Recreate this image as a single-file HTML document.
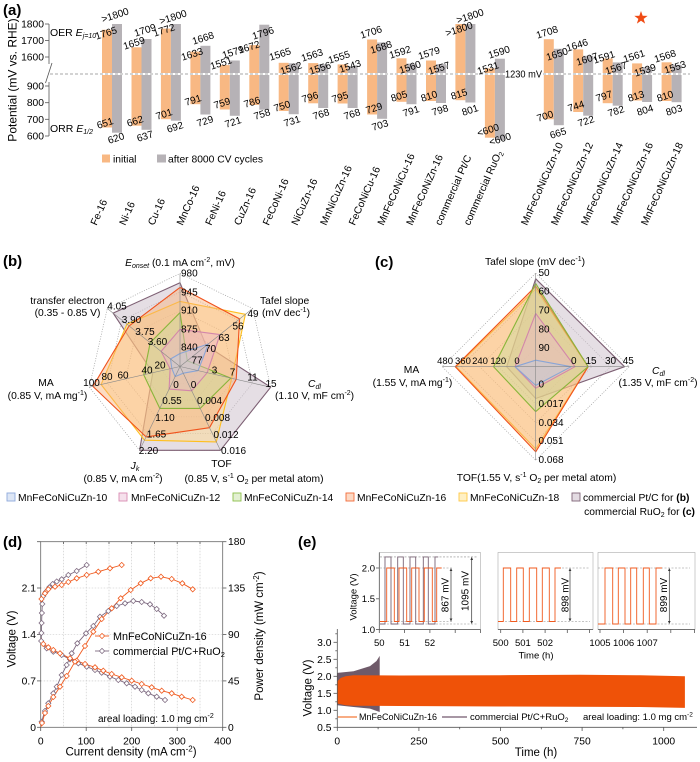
<!DOCTYPE html>
<html><head><meta charset="utf-8"><style>
html,body{margin:0;padding:0;background:#fff;}
svg{display:block;font-family:"Liberation Sans",Arial,sans-serif;}
</style></head><body>
<svg width="700" height="762" viewBox="0 0 700 762" xmlns="http://www.w3.org/2000/svg">
<defs>
<path id="dm" d="M0,-2.6L2.6,0L0,2.6L-2.6,0Z"/>
<marker id="ah" viewBox="0 0 6 6" refX="5.5" refY="3" markerWidth="4" markerHeight="4" orient="auto-start-reverse"><path d="M0,0L6,3L0,6Z" fill="#333"/></marker>
</defs>
<rect width="700" height="762" fill="#fff"/>

<!-- ================= (a) ================= -->
<text x="3" y="15" font-size="15" font-weight="bold">(a)</text>
<text transform="translate(16.5,80) rotate(-90)" text-anchor="middle" font-size="12">Potential (mV vs. RHE)</text>
<g stroke="#555" stroke-width="0.8" fill="none">
<line x1="49" y1="24" x2="49" y2="64"/>
<line x1="52" y1="63" x2="45.5" y2="83"/>
<line x1="49" y1="82" x2="49" y2="136"/>
<line x1="45" y1="24" x2="49" y2="24"/><line x1="45" y1="40.5" x2="49" y2="40.5"/><line x1="45" y1="57" x2="49" y2="57"/>
<line x1="45" y1="86" x2="49" y2="86"/><line x1="45" y1="102.7" x2="49" y2="102.7"/><line x1="45" y1="119.3" x2="49" y2="119.3"/><line x1="45" y1="136" x2="49" y2="136"/>
</g>
<g font-size="10.3" text-anchor="end">
<text x="44" y="27.5">1800</text><text x="44" y="44">1700</text><text x="44" y="60.5">1600</text>
<text x="44" y="89.5">900</text><text x="44" y="106.2">800</text><text x="44" y="122.8">700</text><text x="44" y="139.5">600</text>
</g>
<text x="50" y="36" font-size="10.5">OER <tspan font-style="italic">E</tspan><tspan font-style="italic" font-size="7" dy="2">j=10</tspan></text>
<text x="50" y="132" font-size="10.5">ORR <tspan font-style="italic">E</tspan><tspan font-style="italic" font-size="7" dy="2">1/2</tspan></text>

<!-- bars -->
<g fill="#f8b883">
<rect x="102" y="29.8" width="10" height="43.2"/><rect x="102" y="75" width="10" height="52.5"/>
<rect x="131.5" y="47.3" width="10" height="25.7"/><rect x="131.5" y="75" width="10" height="50.7"/>
<rect x="160.9" y="28.6" width="10" height="44.4"/><rect x="160.9" y="75" width="10" height="44.2"/>
<rect x="190.4" y="51.6" width="10" height="21.4"/><rect x="190.4" y="75" width="10" height="29.2"/>
<rect x="219.8" y="65.1" width="10" height="7.9"/><rect x="219.8" y="75" width="10" height="34.5"/>
<rect x="249.3" y="45.1" width="10" height="27.9"/><rect x="249.3" y="75" width="10" height="30"/>
<rect x="278.7" y="62.8" width="10" height="10.2"/><rect x="278.7" y="75" width="10" height="36"/>
<rect x="308.2" y="63.1" width="10" height="9.9"/><rect x="308.2" y="75" width="10" height="28.3"/>
<rect x="337.6" y="64.4" width="10" height="8.6"/><rect x="337.6" y="75" width="10" height="28.5"/>
<rect x="367.1" y="39.5" width="10" height="33.5"/><rect x="367.1" y="75" width="10" height="39.5"/>
<rect x="396.5" y="58.3" width="10" height="14.7"/><rect x="396.5" y="75" width="10" height="26.8"/>
<rect x="426" y="60.5" width="10" height="12.5"/><rect x="426" y="75" width="10" height="26"/>
<rect x="455.4" y="24" width="10" height="49"/><rect x="455.4" y="75" width="10" height="25.2"/>
<rect x="484.9" y="68.4" width="10" height="4.6"/><rect x="484.9" y="75" width="10" height="62.7"/>
<rect x="543.8" y="39.2" width="10" height="33.8"/><rect x="543.8" y="75" width="10" height="44.3"/>
<rect x="573.2" y="49.4" width="10" height="23.6"/><rect x="573.2" y="75" width="10" height="37"/>
<rect x="602.7" y="58.5" width="10" height="14.5"/><rect x="602.7" y="75" width="10" height="28.2"/>
<rect x="632.1" y="63.4" width="10" height="9.6"/><rect x="632.1" y="75" width="10" height="25.5"/>
<rect x="661.6" y="62.3" width="10" height="10.7"/><rect x="661.6" y="75" width="10" height="26"/>
</g>
<g fill="#b6b2b6">
<rect x="112" y="24" width="10" height="49"/><rect x="112" y="75" width="10" height="57.7"/>
<rect x="141.5" y="39" width="10" height="34"/><rect x="141.5" y="75" width="10" height="54.8"/>
<rect x="170.9" y="24" width="10" height="49"/><rect x="170.9" y="75" width="10" height="45.7"/>
<rect x="200.4" y="45.8" width="10" height="27.2"/><rect x="200.4" y="75" width="10" height="39.5"/>
<rect x="229.8" y="60.5" width="10" height="12.5"/><rect x="229.8" y="75" width="10" height="40.8"/>
<rect x="259.3" y="24.7" width="10" height="48.3"/><rect x="259.3" y="75" width="10" height="34.7"/>
<rect x="288.7" y="63.3" width="10" height="9.7"/><rect x="288.7" y="75" width="10" height="39.2"/>
<rect x="318.2" y="64.3" width="10" height="8.7"/><rect x="318.2" y="75" width="10" height="33"/>
<rect x="347.6" y="66.4" width="10" height="6.6"/><rect x="347.6" y="75" width="10" height="33"/>
<rect x="377.1" y="42.5" width="10" height="30.5"/><rect x="377.1" y="75" width="10" height="43.8"/>
<rect x="406.5" y="63.6" width="10" height="9.4"/><rect x="406.5" y="75" width="10" height="29.2"/>
<rect x="436" y="64.1" width="10" height="8.9"/><rect x="436" y="75" width="10" height="28"/>
<rect x="465.4" y="24" width="10" height="49"/><rect x="465.4" y="75" width="10" height="27.5"/>
<rect x="494.9" y="58.7" width="10" height="14.3"/><rect x="494.9" y="75" width="10" height="65"/>
<rect x="553.8" y="48.8" width="10" height="24.2"/><rect x="553.8" y="75" width="10" height="50.2"/>
<rect x="583.2" y="55.8" width="10" height="17.2"/><rect x="583.2" y="75" width="10" height="40.7"/>
<rect x="612.7" y="62.4" width="10" height="10.6"/><rect x="612.7" y="75" width="10" height="30.7"/>
<rect x="642.1" y="67.1" width="10" height="5.9"/><rect x="642.1" y="75" width="10" height="27"/>
<rect x="671.6" y="64.8" width="10" height="8.2"/><rect x="671.6" y="75" width="10" height="27.2"/>
</g>
<line x1="50" y1="74" x2="503" y2="74" stroke="#8a8a8a" stroke-width="0.8" stroke-dasharray="3,2"/>
<line x1="543" y1="74" x2="690" y2="74" stroke="#8a8a8a" stroke-width="0.8" stroke-dasharray="3,2"/>
<text x="505" y="77.5" font-size="10" textLength="37" lengthAdjust="spacingAndGlyphs">1230 mV</text>
<path d="M641,11L642.65,15.73L647.66,15.84L643.66,18.87L645.11,23.66L641,20.8L636.89,23.66L638.34,18.87L634.34,15.84L639.35,15.73Z" fill="#f04b14"/>

<!-- value labels -->
<g font-size="10" text-anchor="middle">
<text transform="translate(115,15) rotate(-18)" dy="3.5">&gt;1800</text>
<text transform="translate(106,33) rotate(-18)" dy="3.5">1765</text>
<text transform="translate(145,30) rotate(-18)" dy="3.5">1709</text>
<text transform="translate(134,43) rotate(-18)" dy="3.5">1659</text>
<text transform="translate(173,17) rotate(-18)" dy="3.5">&gt;1800</text>
<text transform="translate(164,30) rotate(-18)" dy="3.5">1772</text>
<text transform="translate(203,38) rotate(-18)" dy="3.5">1668</text>
<text transform="translate(192,54) rotate(-18)" dy="3.5">1633</text>
<text transform="translate(233,52) rotate(-18)" dy="3.5">1579</text>
<text transform="translate(221,63) rotate(-18)" dy="3.5">1551</text>
<text transform="translate(263,33) rotate(-18)" dy="3.5">1796</text>
<text transform="translate(249,47) rotate(-18)" dy="3.5">1672</text>
<text transform="translate(280,54) rotate(-18)" dy="3.5">1565</text>
<text transform="translate(291,68) rotate(-18)" dy="3.5">1562</text>
<text transform="translate(312,55) rotate(-18)" dy="3.5">1563</text>
<text transform="translate(320,68) rotate(-18)" dy="3.5">1556</text>
<text transform="translate(339,57) rotate(-18)" dy="3.5">1555</text>
<text transform="translate(350,66) rotate(-18)" dy="3.5">1543</text>
<text transform="translate(371,32) rotate(-18)" dy="3.5">1706</text>
<text transform="translate(381,47) rotate(-18)" dy="3.5">1688</text>
<text transform="translate(400,52) rotate(-18)" dy="3.5">1592</text>
<text transform="translate(410,67) rotate(-18)" dy="3.5">1560</text>
<text transform="translate(429,53) rotate(-18)" dy="3.5">1579</text>
<text transform="translate(439,68) rotate(-18)" dy="3.5">1557</text>
<text transform="translate(470,16) rotate(-18)" dy="3.5">&gt;1800</text>
<text transform="translate(459,29) rotate(-18)" dy="3.5">&gt;1800</text>
<text transform="translate(488,68) rotate(-18)" dy="3.5">1531</text>
<text transform="translate(499,52) rotate(-18)" dy="3.5">1590</text>
<text transform="translate(547,32) rotate(-18)" dy="3.5">1708</text>
<text transform="translate(557,54) rotate(-18)" dy="3.5">1650</text>
<text transform="translate(577,45) rotate(-18)" dy="3.5">1646</text>
<text transform="translate(587,59) rotate(-18)" dy="3.5">1607</text>
<text transform="translate(604,57) rotate(-18)" dy="3.5">1591</text>
<text transform="translate(616,68) rotate(-18)" dy="3.5">1567</text>
<text transform="translate(634,56) rotate(-18)" dy="3.5">1561</text>
<text transform="translate(645,70) rotate(-18)" dy="3.5">1539</text>
<text transform="translate(665,56) rotate(-18)" dy="3.5">1568</text>
<text transform="translate(675,67) rotate(-18)" dy="3.5">1553</text>

<text transform="translate(105,123) rotate(-18)" dy="3.5">651</text>
<text transform="translate(116,138) rotate(-18)" dy="3.5">620</text>
<text transform="translate(135,121) rotate(-18)" dy="3.5">662</text>
<text transform="translate(145,136) rotate(-18)" dy="3.5">637</text>
<text transform="translate(164,114) rotate(-18)" dy="3.5">701</text>
<text transform="translate(175,127) rotate(-18)" dy="3.5">692</text>
<text transform="translate(193,100) rotate(-18)" dy="3.5">791</text>
<text transform="translate(205,121) rotate(-18)" dy="3.5">729</text>
<text transform="translate(222,103) rotate(-18)" dy="3.5">759</text>
<text transform="translate(233,122) rotate(-18)" dy="3.5">721</text>
<text transform="translate(252,102) rotate(-18)" dy="3.5">786</text>
<text transform="translate(262,114) rotate(-18)" dy="3.5">758</text>
<text transform="translate(282,106) rotate(-18)" dy="3.5">750</text>
<text transform="translate(292,121) rotate(-18)" dy="3.5">731</text>
<text transform="translate(310,97) rotate(-18)" dy="3.5">796</text>
<text transform="translate(321,114) rotate(-18)" dy="3.5">768</text>
<text transform="translate(340,97) rotate(-18)" dy="3.5">795</text>
<text transform="translate(352,114) rotate(-18)" dy="3.5">768</text>
<text transform="translate(374,108) rotate(-18)" dy="3.5">729</text>
<text transform="translate(380,125) rotate(-18)" dy="3.5">703</text>
<text transform="translate(399,96) rotate(-18)" dy="3.5">805</text>
<text transform="translate(411,111) rotate(-18)" dy="3.5">791</text>
<text transform="translate(429,96) rotate(-18)" dy="3.5">810</text>
<text transform="translate(440,110) rotate(-18)" dy="3.5">798</text>
<text transform="translate(459,94) rotate(-18)" dy="3.5">815</text>
<text transform="translate(470,110) rotate(-18)" dy="3.5">801</text>
<text transform="translate(488,130) rotate(-18)" dy="3.5">&lt;600</text>
<text transform="translate(500,139) rotate(-18)" dy="3.5">&lt;600</text>
<text transform="translate(545,116) rotate(-18)" dy="3.5">700</text>
<text transform="translate(558,133) rotate(-18)" dy="3.5">665</text>
<text transform="translate(576,106) rotate(-18)" dy="3.5">744</text>
<text transform="translate(586,121) rotate(-18)" dy="3.5">722</text>
<text transform="translate(604,96) rotate(-18)" dy="3.5">797</text>
<text transform="translate(616,111) rotate(-18)" dy="3.5">782</text>
<text transform="translate(636,96) rotate(-18)" dy="3.5">813</text>
<text transform="translate(645,110) rotate(-18)" dy="3.5">804</text>
<text transform="translate(665,96) rotate(-18)" dy="3.5">810</text>
<text transform="translate(674,110) rotate(-18)" dy="3.5">803</text>
</g>

<!-- legend (a) -->
<rect x="102" y="154.5" width="8" height="8" fill="#f8b883"/>
<text x="113" y="162.5" font-size="10.3">initial</text>
<rect x="157" y="154.5" width="9" height="8" fill="#b6b2b6"/>
<text x="168" y="162.5" font-size="10.3">after 8000 CV cycles</text>

<!-- category labels -->
<g font-size="10.3">
<text transform="translate(96.5,226) rotate(-66)">Fe-16</text>
<text transform="translate(125.2,226) rotate(-66)">Ni-16</text>
<text transform="translate(153.9,226) rotate(-66)">Cu-16</text>
<text transform="translate(182.6,226) rotate(-66)">MnCo-16</text>
<text transform="translate(211.3,226) rotate(-66)">FeNi-16</text>
<text transform="translate(240,226) rotate(-66)">CuZn-16</text>
<text transform="translate(268.7,226) rotate(-66)">FeCoNi-16</text>
<text transform="translate(297.4,226) rotate(-66)">NiCuZn-16</text>
<text transform="translate(326.1,226) rotate(-66)">MnNiCuZn-16</text>
<text transform="translate(354.8,226) rotate(-66)">FeCoNiCu-16</text>
<text transform="translate(383.5,226) rotate(-66)">MnFeCoNiCu-16</text>
<text transform="translate(412.2,226) rotate(-66)">MnFeCoNiZn-16</text>
<text transform="translate(440.9,226) rotate(-66)">commercial Pt/C</text>
<text transform="translate(469.6,226) rotate(-66)">commercial RuO<tspan font-size="7" dy="2">2</tspan></text>
<text transform="translate(527,226) rotate(-66)">MnFeCoNiCuZn-10</text>
<text transform="translate(557,226) rotate(-66)">MnFeCoNiCuZn-12</text>
<text transform="translate(587,226) rotate(-66)">MnFeCoNiCuZn-14</text>
<text transform="translate(617,226) rotate(-66)">MnFeCoNiCuZn-16</text>
<text transform="translate(647,226) rotate(-66)">MnFeCoNiCuZn-18</text>
</g>

<!-- ================= (b) ================= -->
<text x="3" y="266" font-size="15" font-weight="bold">(b)</text>
<g fill="none" stroke="#9a9a9a" stroke-width="0.7" stroke-dasharray="1,1.5">
<polygon points="180,347.9 194.5,354.9 198.1,370.6 188.1,383.3 171.9,383.3 161.9,370.6 165.5,354.9"/>
<polygon points="180,329.3 209.1,343.3 216.3,374.8 196.1,400 163.9,400 143.7,374.8 150.9,343.3"/>
<polygon points="180,310.7 223.6,331.7 234.4,378.9 204.2,416.8 155.8,416.8 125.6,378.9 136.4,331.7"/>
<polygon points="180,292.1 238.2,320.1 252.5,383.1 212.3,433.5 147.7,433.5 107.5,383.1 121.8,320.1"/>
<polygon points="180,273.5 252.7,308.5 270.7,387.2 220.4,450.3 139.6,450.3 89.3,387.2 107.3,308.5"/>
</g>
<g stroke-width="1.1" stroke-linejoin="round">
<polygon points="180,282.8 206.2,345.6 270.7,387.2 220.4,450.3 139.6,450.3 152.8,372.7 113.1,313.1" fill="#cfc3cd" fill-opacity="0.55" stroke="#7d5f73"/>
<polygon points="180,301.4 245.4,314.3 231.7,378.3 216.3,441.9 144.5,440.2 101.1,384.5 126.9,324.2" fill="#ffd98a" fill-opacity="0.45" stroke="#ffbf1f"/>
<polygon points="180,287.4 239.6,318.9 236.2,379.3 209.5,427.7 146.1,436.9 92.9,386.4 129.1,325.9" fill="#f9b27a" fill-opacity="0.45" stroke="#f0521c"/>
<polygon points="180,312.6 187.3,360.7 230.8,378.1 200.2,408.4 159.8,408.4 143.7,374.8 150.2,342.7" fill="#c5de9a" fill-opacity="0.4" stroke="#8ab53a"/>
<polygon points="180,329.3 220,334.6 207.2,372.7 191.7,390.8 169.1,389.1 170.1,368.8 161.1,351.4" fill="#eab3cc" fill-opacity="0.4" stroke="#d386aa"/>
<polygon points="180,353.5 208.4,343.9 198.1,370.6 183.2,373.2 175.1,376.6 171.8,368.4 170.5,359" fill="#b9cbea" fill-opacity="0.4" stroke="#8aa5d6"/>
</g>
<g stroke="#888" stroke-width="0.6">
<line x1="180" y1="366.5" x2="180" y2="273.5"/><line x1="180" y1="366.5" x2="252.7" y2="308.5"/>
<line x1="180" y1="366.5" x2="270.7" y2="387.2"/><line x1="180" y1="366.5" x2="220.4" y2="450.3"/>
<line x1="180" y1="366.5" x2="139.6" y2="450.3"/><line x1="180" y1="366.5" x2="89.3" y2="387.2"/>
<line x1="180" y1="366.5" x2="107.3" y2="308.5"/>
</g>
<g font-size="10">
<text x="181" y="350.5">840</text><text x="181" y="332.5">875</text><text x="181" y="313.5">910</text><text x="181" y="295.5">945</text><text x="181" y="276.5">980</text>
</g>
<g font-size="10" text-anchor="middle">
<text x="253" y="317">49</text><text x="238" y="329.5">56</text><text x="224" y="341">63</text><text x="210.5" y="352">70</text><text x="197" y="363.5">77</text>
<text x="214.5" y="373.5">3</text><text x="232.5" y="375.5">7</text><text x="252.5" y="380.5">11</text><text x="271" y="387">15</text>
<text x="193.5" y="388">0</text><text x="209.5" y="404">0.004</text><text x="217.5" y="421">0.008</text><text x="226" y="438">0.012</text><text x="233.5" y="454">0.016</text>
<text x="176" y="388">0</text><text x="172" y="404">0.55</text><text x="165" y="421">1.10</text><text x="156.5" y="437.5">1.65</text><text x="148.5" y="454">2.20</text>
<text x="160" y="368.5">20</text><text x="147" y="373.5">40</text><text x="123" y="378.5">60</text><text x="107" y="380">80</text><text x="91.5" y="386">100</text>
<text x="157.5" y="345">3.60</text><text x="145" y="335">3.75</text><text x="131.5" y="323">3.90</text><text x="117" y="309.5">4.05</text>
</g>
<g font-size="10.3">
<text x="180" y="266" text-anchor="middle"><tspan font-style="italic">E</tspan><tspan font-style="italic" font-size="7" dy="2">onset</tspan><tspan dy="-2"> (0.1 mA cm</tspan><tspan font-size="7" dy="-4">-2</tspan><tspan dy="4">, mV)</tspan></text>
<text x="260" y="304">Tafel slope</text>
<text x="262" y="316">(mV dec<tspan font-size="7" dy="-4">-1</tspan><tspan dy="4">)</tspan></text>
<text x="308" y="387"><tspan font-style="italic">C</tspan><tspan font-style="italic" font-size="7" dy="2">dl</tspan></text>
<text x="275" y="399">(1.10 V, mF cm<tspan font-size="7" dy="-4">-2</tspan><tspan dy="4">)</tspan></text>
<text x="221.5" y="467" text-anchor="middle">TOF</text>
<text x="254" y="482" text-anchor="middle">(0.85 V, s<tspan font-size="7" dy="-4">-1</tspan><tspan dy="4"> O</tspan><tspan font-size="7" dy="2">2</tspan><tspan dy="-2"> per metal atom)</tspan></text>
<text x="135" y="469" text-anchor="middle"><tspan font-style="italic">J</tspan><tspan font-style="italic" font-size="7" dy="2">k</tspan></text>
<text x="123" y="482" text-anchor="middle">(0.85 V, mA cm<tspan font-size="7" dy="-4">-2</tspan><tspan dy="4">)</tspan></text>
<text x="46" y="386" text-anchor="middle">MA</text>
<text x="47.5" y="399" text-anchor="middle">(0.85 V, mA mg<tspan font-size="7" dy="-4">-1</tspan><tspan dy="4">)</tspan></text>
<text x="67.5" y="304" text-anchor="middle">transfer electron</text>
<text x="67.5" y="316" text-anchor="middle">(0.35 - 0.85 V)</text>
</g>

<!-- ================= (c) ================= -->
<text x="375" y="267" font-size="15" font-weight="bold">(c)</text>
<g fill="none" stroke="#9a9a9a" stroke-width="0.7" stroke-dasharray="1,1.5">
<polygon points="535.7,348 554.4,366.7 535.7,385.4 517,366.7"/>
<polygon points="535.7,329.3 573.1,366.7 535.7,404.1 498.3,366.7"/>
<polygon points="535.7,310.6 591.8,366.7 535.7,422.8 479.6,366.7"/>
<polygon points="535.7,291.9 610.5,366.7 535.7,441.5 460.9,366.7"/>
<polygon points="535.7,273.2 629.2,366.7 535.7,460.2 442.2,366.7"/>
</g>
<g stroke-width="1.1" stroke-linejoin="round">
<polygon points="535.7,278.8 624.5,366.7 535.7,398.5 506.7,366.7" fill="#cfc3cd" fill-opacity="0.55" stroke="#7d5f73"/>
<polygon points="535.7,289.1 588.1,366.7 535.7,449 456.2,366.7" fill="#ffd98a" fill-opacity="0.45" stroke="#ffbf1f"/>
<polygon points="535.7,286.3 588.1,366.7 535.7,451.8 455.3,366.7" fill="#f9b27a" fill-opacity="0.45" stroke="#f0521c"/>
<polygon points="535.7,283.5 588.1,366.7 535.7,411.6 493.6,366.7" fill="#c5de9a" fill-opacity="0.4" stroke="#8ab53a"/>
<polygon points="535.7,313.4 575,366.7 535.7,388.2 515.1,366.7" fill="#eab3cc" fill-opacity="0.4" stroke="#d386aa"/>
<polygon points="535.7,360.2 571.2,366.7 535.7,385.4 515.1,366.7" fill="#b9cbea" fill-opacity="0.4" stroke="#8aa5d6"/>
</g>
<g stroke="#888" stroke-width="0.6">
<line x1="535.7" y1="273.2" x2="535.7" y2="460.2"/><line x1="442.2" y1="366.7" x2="629.2" y2="366.7"/>
</g>
<g font-size="10">
<text x="538.5" y="276">50</text><text x="538.5" y="294.5">60</text><text x="538.5" y="313.5">70</text><text x="538.5" y="332.5">80</text><text x="538.5" y="351">90</text>
<text x="538.5" y="387.5">0</text><text x="538.5" y="407">0.017</text><text x="538.5" y="426">0.034</text><text x="538.5" y="444">0.051</text><text x="538.5" y="463">0.068</text>
</g>
<g font-size="9.5">
<text x="453" y="364" text-anchor="end">480</text><text x="455" y="364">360</text><text x="480" y="364" text-anchor="middle">240</text><text x="498.3" y="364" text-anchor="middle">120</text><text x="517" y="364" text-anchor="middle">0</text>
</g>
<g font-size="10" text-anchor="middle">
<text x="573.8" y="364">0</text><text x="591" y="364">15</text><text x="610.5" y="364">30</text><text x="628.3" y="364">45</text>
</g>
<g font-size="10.3">
<text x="535" y="265" text-anchor="middle">Tafel slope (mV dec<tspan font-size="7" dy="-4">-1</tspan><tspan dy="4">)</tspan></text>
<text x="411.5" y="373" text-anchor="middle">MA</text>
<text x="412.5" y="386" text-anchor="middle">(1.55 V, mA mg<tspan font-size="7" dy="-4">-1</tspan><tspan dy="4">)</tspan></text>
<text x="652" y="374"><tspan font-style="italic">C</tspan><tspan font-style="italic" font-size="7" dy="2">dl</tspan></text>
<text x="658" y="386" text-anchor="middle">(1.35 V, mF cm<tspan font-size="7" dy="-4">-2</tspan><tspan dy="4">)</tspan></text>
<text x="536.5" y="481" text-anchor="middle">TOF(1.55 V, s<tspan font-size="7" dy="-4">-1</tspan><tspan dy="4"> O</tspan><tspan font-size="7" dy="2">2</tspan><tspan dy="-2"> per metal atom)</tspan></text>
</g>

<!-- legend b/c -->
<g stroke-width="0.9">
<rect x="7" y="493" width="8" height="8" fill="#dde6f5" stroke="#8faadc"/>
<rect x="119" y="493" width="8" height="8" fill="#f6e1ec" stroke="#d98cb3"/>
<rect x="233" y="493" width="8" height="8" fill="#e3f0d3" stroke="#8cc04a"/>
<rect x="346" y="493" width="8" height="8" fill="#fcd9c4" stroke="#f26b3a"/>
<rect x="459" y="493" width="8" height="8" fill="#fff0c4" stroke="#ffc845"/>
<rect x="572" y="493" width="8" height="8" fill="#e3dbe2" stroke="#7f6477"/>
</g>
<g font-size="10.3">
<text x="18" y="501">MnFeCoNiCuZn-10</text>
<text x="131" y="501">MnFeCoNiCuZn-12</text>
<text x="244" y="501">MnFeCoNiCuZn-14</text>
<text x="357" y="501">MnFeCoNiCuZn-16</text>
<text x="470" y="501">MnFeCoNiCuZn-18</text>
<text x="583" y="501">commercial Pt/C for <tspan font-weight="bold">(b)</tspan></text>
<text x="695" y="515" text-anchor="end">commercial RuO<tspan font-size="7" dy="2">2</tspan><tspan dy="-2"> for </tspan><tspan font-weight="bold">(c)</tspan></text>
</g>

<!-- ================= (d) ================= -->
<text x="3" y="547" font-size="15" font-weight="bold">(d)</text>
<g stroke="#c4c4c4" stroke-width="0.6" stroke-dasharray="1.5,1.5">
<line x1="40.7" y1="680.9" x2="222.7" y2="680.9"/><line x1="40.7" y1="634.5" x2="222.7" y2="634.5"/><line x1="40.7" y1="588" x2="222.7" y2="588"/>
<line x1="63.5" y1="541.7" x2="63.5" y2="727.3"/><line x1="86.2" y1="541.7" x2="86.2" y2="727.3"/><line x1="109" y1="541.7" x2="109" y2="727.3"/>
<line x1="131.7" y1="541.7" x2="131.7" y2="727.3"/><line x1="154.5" y1="541.7" x2="154.5" y2="727.3"/><line x1="177.2" y1="541.7" x2="177.2" y2="727.3"/><line x1="200" y1="541.7" x2="200" y2="727.3"/>
</g>
<rect x="40.7" y="541.7" width="182" height="185.6" fill="none" stroke="#666" stroke-width="0.8"/>
<g stroke="#555" stroke-width="0.8">
<line x1="37" y1="727.3" x2="40.7" y2="727.3"/><line x1="37" y1="680.9" x2="40.7" y2="680.9"/><line x1="37" y1="634.5" x2="40.7" y2="634.5"/><line x1="37" y1="588" x2="40.7" y2="588"/><line x1="37" y1="541.7" x2="40.7" y2="541.7"/>
<line x1="222.7" y1="727.3" x2="226.4" y2="727.3"/><line x1="222.7" y1="680.9" x2="226.4" y2="680.9"/><line x1="222.7" y1="634.5" x2="226.4" y2="634.5"/><line x1="222.7" y1="588" x2="226.4" y2="588"/><line x1="222.7" y1="541.7" x2="226.4" y2="541.7"/>
<line x1="40.7" y1="727.3" x2="40.7" y2="731"/><line x1="86.2" y1="727.3" x2="86.2" y2="731"/><line x1="131.7" y1="727.3" x2="131.7" y2="731"/><line x1="177.2" y1="727.3" x2="177.2" y2="731"/><line x1="222.7" y1="727.3" x2="222.7" y2="731"/>
<line x1="63.5" y1="541.7" x2="63.5" y2="544"/><line x1="86.2" y1="541.7" x2="86.2" y2="544"/><line x1="109" y1="541.7" x2="109" y2="544"/><line x1="131.7" y1="541.7" x2="131.7" y2="544"/><line x1="154.5" y1="541.7" x2="154.5" y2="544"/><line x1="177.2" y1="541.7" x2="177.2" y2="544"/><line x1="200" y1="541.7" x2="200" y2="544"/>
</g>
<g font-size="10.3" text-anchor="end">
<text x="36" y="731">0</text><text x="36" y="684.5">0.7</text><text x="36" y="638">1.4</text><text x="36" y="591.5">2.1</text>
</g>
<g font-size="10.3">
<text x="228" y="731">0</text><text x="228" y="684.5">45</text><text x="228" y="638">90</text><text x="228" y="591.5">135</text><text x="228" y="545">180</text>
</g>
<g font-size="10.3" text-anchor="middle">
<text x="40.7" y="744.5">0</text><text x="86.2" y="744.5">100</text><text x="131.7" y="744.5">200</text><text x="177.2" y="744.5">300</text><text x="222.7" y="744.5">400</text>
</g>
<text transform="translate(15.5,639) rotate(-90)" text-anchor="middle" font-size="11.5">Voltage (V)</text>
<text transform="translate(263,636) rotate(-90)" text-anchor="middle" font-size="11.5">Power density (mW cm<tspan font-size="8" dy="-4">-2</tspan><tspan dy="4">)</tspan></text>
<text x="131" y="755.5" text-anchor="middle" font-size="11.5">Current density (mA cm<tspan font-size="8" dy="-4">-2</tspan><tspan dy="4">)</tspan></text>

<g fill="none" stroke-width="0.9">
<polyline stroke="#7e6a80" points="41.3,643 41.4,633 41.6,623 41.9,613 42.3,604 43.3,596 46,591.7 49.3,587.3 52.7,584 56.7,581.5 61.7,579.3 68.3,575 76.7,571 86.7,565"/>
<polyline stroke="#7e6a80" points="41.2,641 43,645 46.7,648.3 53.3,651.7 61.7,655 70,659.3 78.3,663.3 86.7,666.7 95,670 101.7,672.7 110,676.7 118.3,680 126.7,683.3 135,686.7 141.7,690 148.3,693.3 156.7,696.7 165,700"/>
<polyline stroke="#7e6a80" points="40.9,727 41.7,721.7 43.3,716 45,711 48.3,703.3 53.3,693.3 56.7,686.7 61.7,675 66.7,665 71.7,653.3 77.3,643.3 86,633.3 93.3,626 100,616.7 108.3,611 116.7,606 125,603.3 133.3,601 141.7,602 150,604.3 156.7,609 164,615.7"/>
<polyline stroke="#f05a1e" points="41,605 41.5,599 45,593.3 48.3,589.3 55,586.7 61.7,585 68.3,582 76.7,578.3 86.7,575 98.3,571.7 110,568.3 121.7,565"/>
<polyline stroke="#f05a1e" points="41.2,638 43.3,644 48.3,647.3 53.3,650 60,653.3 70,658.3 76.7,660.7 85,664 95,667.3 103.3,670.7 111.7,674 121.7,677.3 131.7,680.7 141.7,684 151.7,687.3 161.7,690.7 171.7,693.3 181.7,696.7 192.7,700"/>
<polyline stroke="#f05a1e" points="40.9,727 42,723 43.5,718 45,713 48.3,706 53.3,697 60,686.7 66.7,676 75,661.7 85,646 93.3,631.7 101.7,619 111.7,608.3 120.7,598.3 130.7,590 140.7,583.3 150.7,578.3 161,576.7 171.7,579 182.3,583.3 192.7,589.3"/>
</g>
<g fill="#fff" stroke="#7e6a80" stroke-width="0.8">
<use href="#dm" x="41.4" y="633"/><use href="#dm" x="41.6" y="623"/><use href="#dm" x="41.9" y="613"/><use href="#dm" x="42.3" y="604"/><use href="#dm" x="43.3" y="596"/><use href="#dm" x="46" y="591.7"/><use href="#dm" x="49.3" y="587.3"/><use href="#dm" x="52.7" y="584"/><use href="#dm" x="56.7" y="581.5"/><use href="#dm" x="61.7" y="579.3"/><use href="#dm" x="68.3" y="575"/><use href="#dm" x="76.7" y="571"/><use href="#dm" x="86.7" y="565"/>
<use href="#dm" x="41.2" y="641"/><use href="#dm" x="46.7" y="648.3"/><use href="#dm" x="53.3" y="651.7"/><use href="#dm" x="61.7" y="655"/><use href="#dm" x="70" y="659.3"/><use href="#dm" x="78.3" y="663.3"/><use href="#dm" x="86.7" y="666.7"/><use href="#dm" x="95" y="670"/><use href="#dm" x="101.7" y="672.7"/><use href="#dm" x="110" y="676.7"/><use href="#dm" x="118.3" y="680"/><use href="#dm" x="126.7" y="683.3"/><use href="#dm" x="135" y="686.7"/><use href="#dm" x="141.7" y="690"/><use href="#dm" x="148.3" y="693.3"/><use href="#dm" x="156.7" y="696.7"/><use href="#dm" x="165" y="700"/>
<use href="#dm" x="41.7" y="721.7"/><use href="#dm" x="45" y="711"/><use href="#dm" x="48.3" y="703.3"/><use href="#dm" x="53.3" y="693.3"/><use href="#dm" x="56.7" y="686.7"/><use href="#dm" x="61.7" y="675"/><use href="#dm" x="66.7" y="665"/><use href="#dm" x="71.7" y="653.3"/><use href="#dm" x="77.3" y="643.3"/><use href="#dm" x="86" y="633.3"/><use href="#dm" x="93.3" y="626"/><use href="#dm" x="100" y="616.7"/><use href="#dm" x="108.3" y="611"/><use href="#dm" x="116.7" y="606"/><use href="#dm" x="125" y="603.3"/><use href="#dm" x="133.3" y="601"/><use href="#dm" x="141.7" y="602"/><use href="#dm" x="150" y="604.3"/><use href="#dm" x="156.7" y="609"/><use href="#dm" x="164" y="615.7"/>
</g>
<g fill="#fff" stroke="#f05a1e" stroke-width="0.8">
<use href="#dm" x="41.5" y="599"/><use href="#dm" x="45" y="593.3"/><use href="#dm" x="48.3" y="589.3"/><use href="#dm" x="55" y="586.7"/><use href="#dm" x="61.7" y="585"/><use href="#dm" x="68.3" y="582"/><use href="#dm" x="76.7" y="578.3"/><use href="#dm" x="86.7" y="575"/><use href="#dm" x="98.3" y="571.7"/><use href="#dm" x="110" y="568.3"/><use href="#dm" x="121.7" y="565"/>
<use href="#dm" x="43.3" y="644"/><use href="#dm" x="48.3" y="647.3"/><use href="#dm" x="53.3" y="650"/><use href="#dm" x="60" y="653.3"/><use href="#dm" x="70" y="658.3"/><use href="#dm" x="76.7" y="660.7"/><use href="#dm" x="85" y="664"/><use href="#dm" x="95" y="667.3"/><use href="#dm" x="103.3" y="670.7"/><use href="#dm" x="111.7" y="674"/><use href="#dm" x="121.7" y="677.3"/><use href="#dm" x="131.7" y="680.7"/><use href="#dm" x="141.7" y="684"/><use href="#dm" x="151.7" y="687.3"/><use href="#dm" x="161.7" y="690.7"/><use href="#dm" x="171.7" y="693.3"/><use href="#dm" x="181.7" y="696.7"/><use href="#dm" x="192.7" y="700"/>
<use href="#dm" x="42" y="723"/><use href="#dm" x="45" y="713"/><use href="#dm" x="48.3" y="706"/><use href="#dm" x="53.3" y="697"/><use href="#dm" x="60" y="686.7"/><use href="#dm" x="66.7" y="676"/><use href="#dm" x="75" y="661.7"/><use href="#dm" x="85" y="646"/><use href="#dm" x="93.3" y="631.7"/><use href="#dm" x="101.7" y="619"/><use href="#dm" x="111.7" y="608.3"/><use href="#dm" x="120.7" y="598.3"/><use href="#dm" x="130.7" y="590"/><use href="#dm" x="140.7" y="583.3"/><use href="#dm" x="150.7" y="578.3"/><use href="#dm" x="161" y="576.7"/><use href="#dm" x="171.7" y="579"/><use href="#dm" x="182.3" y="583.3"/><use href="#dm" x="192.7" y="589.3"/>
</g>
<!-- legend d -->
<line x1="95" y1="636" x2="109" y2="636" stroke="#f05a1e" stroke-width="0.9"/>
<use href="#dm" x="102" y="636" fill="#fff" stroke="#f05a1e" stroke-width="0.8"/>
<line x1="95" y1="651" x2="109" y2="651" stroke="#7e6a80" stroke-width="0.9"/>
<use href="#dm" x="102" y="651" fill="#fff" stroke="#7e6a80" stroke-width="0.8"/>
<text x="113" y="640" font-size="10.8">MnFeCoNiCuZn-16</text>
<text x="113" y="655" font-size="10.8">commercial Pt/C+RuO<tspan font-size="7.5" dy="2">2</tspan></text>
<text x="98" y="722" font-size="10">areal loading: 1.0 mg cm<tspan font-size="7" dy="-4">-2</tspan></text>

<!-- ================= (e) ================= -->
<text x="298" y="547" font-size="15" font-weight="bold">(e)</text>
<polygon fill="#6f5a69" points="337.3,672.9 353.6,671.2 370,666.1 376.5,661 379.7,655.9 379.7,712 370,708.6 353.6,707 337.3,705.2"/>
<polygon fill="#ef5208" points="337.3,681.4 340.6,678 345.5,676.3 353.6,675.3 400,675.5 500,675.2 580,674.8 640,675.3 684.9,676.3 684.9,707.9 640,707 500,706.5 400,706 353.6,705.8 345.5,705.2 337.3,703.5"/>
<g stroke="#555" stroke-width="0.8">
<line x1="337.3" y1="629" x2="337.3" y2="727.3"/>
<line x1="337.3" y1="727.3" x2="697" y2="727.3"/>
<line x1="333.5" y1="727.3" x2="337.3" y2="727.3"/><line x1="333.5" y1="710.3" x2="337.3" y2="710.3"/><line x1="333.5" y1="693.3" x2="337.3" y2="693.3"/><line x1="333.5" y1="676.3" x2="337.3" y2="676.3"/><line x1="333.5" y1="659.3" x2="337.3" y2="659.3"/><line x1="333.5" y1="642.3" x2="337.3" y2="642.3"/>
<line x1="335.3" y1="718.8" x2="337.3" y2="718.8"/><line x1="335.3" y1="701.8" x2="337.3" y2="701.8"/><line x1="335.3" y1="684.8" x2="337.3" y2="684.8"/><line x1="335.3" y1="667.8" x2="337.3" y2="667.8"/><line x1="335.3" y1="650.8" x2="337.3" y2="650.8"/><line x1="335.3" y1="633.8" x2="337.3" y2="633.8"/>
<line x1="337.3" y1="727.3" x2="337.3" y2="731"/><line x1="418.9" y1="727.3" x2="418.9" y2="731"/><line x1="500.5" y1="727.3" x2="500.5" y2="731"/><line x1="582.1" y1="727.3" x2="582.1" y2="731"/><line x1="663.7" y1="727.3" x2="663.7" y2="731"/>
<line x1="378.1" y1="727.3" x2="378.1" y2="729.3"/><line x1="459.7" y1="727.3" x2="459.7" y2="729.3"/><line x1="541.3" y1="727.3" x2="541.3" y2="729.3"/><line x1="622.9" y1="727.3" x2="622.9" y2="729.3"/>
</g>
<g font-size="10.3" text-anchor="end">
<text x="331.5" y="731">0.5</text><text x="331.5" y="714">1.0</text><text x="331.5" y="697">1.5</text><text x="331.5" y="680">2.0</text><text x="331.5" y="663">2.5</text><text x="331.5" y="646">3.0</text>
</g>
<g font-size="10.3" text-anchor="middle">
<text x="337.3" y="744.5">0</text><text x="418.9" y="744.5">250</text><text x="500.5" y="744.5">500</text><text x="582.1" y="744.5">750</text><text x="663.7" y="744.5">1000</text>
</g>
<text x="536" y="756" text-anchor="middle" font-size="11.5">Time (h)</text>
<text transform="translate(311.5,688) rotate(-90)" text-anchor="middle" font-size="11.5">Voltage (V)</text>
<line x1="338" y1="717" x2="357" y2="717" stroke="#f5915a" stroke-width="1.5"/>
<text x="359" y="720" font-size="9">MnFeCoNiCuZn-16</text>
<line x1="442" y1="717" x2="467" y2="717" stroke="#8a7585" stroke-width="1.5"/>
<text x="470" y="720" font-size="9.5">commercial Pt/C+RuO<tspan font-size="6.5" dy="2">2</tspan></text>
<text x="583" y="720" font-size="9.5">areal loading: 1.0 mg cm<tspan font-size="6.5" dy="-3.5">-2</tspan></text>

<!-- insets -->
<g fill="none" stroke="#aaa" stroke-width="0.6">
<rect x="379.3" y="552.5" width="101.2" height="77"/>
<rect x="498" y="552.5" width="95" height="77"/>
<rect x="598" y="552.5" width="97" height="77"/>
</g>
<g stroke="#555" stroke-width="0.8">
<line x1="379.3" y1="552.5" x2="379.3" y2="629.5"/>
<line x1="379.3" y1="629.5" x2="480.5" y2="629.5"/>
<line x1="498" y1="629.5" x2="593" y2="629.5"/>
<line x1="598" y1="629.5" x2="695" y2="629.5"/>
<line x1="376" y1="568" x2="379.3" y2="568"/><line x1="376" y1="598.8" x2="379.3" y2="598.8"/><line x1="376" y1="629.5" x2="379.3" y2="629.5"/>
<line x1="379.3" y1="629.5" x2="379.3" y2="633"/><line x1="404.6" y1="629.5" x2="404.6" y2="633"/><line x1="429.9" y1="629.5" x2="429.9" y2="633"/><line x1="455.2" y1="629.5" x2="455.2" y2="633"/><line x1="480.5" y1="629.5" x2="480.5" y2="633"/>
<line x1="500.7" y1="629.5" x2="500.7" y2="633"/><line x1="522.9" y1="629.5" x2="522.9" y2="633"/><line x1="545.1" y1="629.5" x2="545.1" y2="633"/><line x1="567.3" y1="629.5" x2="567.3" y2="633"/><line x1="589.5" y1="629.5" x2="589.5" y2="633"/>
<line x1="600" y1="629.5" x2="600" y2="633"/><line x1="623.6" y1="629.5" x2="623.6" y2="633"/><line x1="647.2" y1="629.5" x2="647.2" y2="633"/><line x1="670.8" y1="629.5" x2="670.8" y2="633"/><line x1="694.4" y1="629.5" x2="694.4" y2="633"/>
</g>
<g stroke="#8a8a8a" stroke-width="0.6" stroke-dasharray="2,1.5">
<line x1="380" y1="556.9" x2="478" y2="556.9"/><line x1="380" y1="568" x2="452" y2="568"/><line x1="380" y1="621.5" x2="452" y2="621.5"/><line x1="380" y1="624" x2="478" y2="624"/>
<line x1="555" y1="568" x2="590" y2="568"/><line x1="498" y1="621.5" x2="590" y2="621.5"/>
<line x1="598" y1="568" x2="690" y2="568"/><line x1="598" y1="624" x2="690" y2="624"/>
</g>
<g fill="none" stroke-width="0.9">
<polyline stroke="#7a6476" points="380,624 385,624 385,556.9 391,556.9 391,624 397.7,624 397.7,556.9 403.3,556.9 403.3,624 410,624 410,556.9 415.7,556.9 415.7,624 423.3,624 423.3,556.9 428.3,556.9 428.3,624 435,624 435,556.9 438.3,556.9"/>
<polyline stroke="#f05a1e" points="380,621.5 386.7,621.5 386.7,568 394.3,568 394.3,621.5 399,621.5 399,568 406.7,568 406.7,621.5 411.7,621.5 411.7,568 419,568 419,621.5 424.3,621.5 424.3,568 432.3,568 432.3,621.5 436.7,621.5 436.7,568 441.7,568"/>
<polyline stroke="#f05a1e" points="498,621.5 503.3,621.5 503.3,568 510.7,568 510.7,621.5 516.7,621.5 516.7,568 523.3,568 523.3,621.5 529.3,621.5 529.3,568 536.7,568 536.7,621.5 542.3,621.5 542.3,568 549.3,568 549.3,621.5 555,621.5 555,568 561,568"/>
<polyline stroke="#f05a1e" points="598,624 605,624 605,568 612.7,568 612.7,624 618.3,624 618.3,568 625,568 625,624 630.7,624 630.7,568 636.7,568 636.7,624 643.3,624 643.3,568 649.3,568 649.3,624 656,624 656,568 662,568"/>
</g>
<g stroke="#333" stroke-width="0.7" marker-start="url(#ah)" marker-end="url(#ah)">
<line x1="451" y1="568.5" x2="451" y2="621"/>
<line x1="471.7" y1="557.4" x2="471.7" y2="623.5"/>
<line x1="570" y1="568.5" x2="570" y2="621"/>
<line x1="669.3" y1="568.5" x2="669.3" y2="623.5"/>
</g>
<g font-size="10" text-anchor="middle">
<text transform="translate(448.5,595) rotate(-90)">867 mV</text>
<text transform="translate(468.5,591) rotate(-90)">1095 mV</text>
<text transform="translate(568.5,595) rotate(-90)">898 mV</text>
<text transform="translate(667,595) rotate(-90)">899 mV</text>
</g>
<g font-size="9.5" text-anchor="end">
<text x="375" y="571.3">2.0</text><text x="375" y="602">1.5</text><text x="375" y="633">1.0</text>
</g>
<g font-size="9.5" text-anchor="middle">
<text x="379.3" y="646">50</text><text x="404.6" y="646">51</text><text x="429.9" y="646">52</text>
<text x="500.7" y="646">500</text><text x="522.9" y="646">501</text><text x="545.1" y="646">502</text>
<text x="600" y="646">1005</text><text x="623.6" y="646">1006</text><text x="647.2" y="646">1007</text>
</g>
<text x="536" y="658.5" text-anchor="middle" font-size="9.5">Time (h)</text>
<text transform="translate(356.5,597) rotate(-90)" text-anchor="middle" font-size="9.5">Voltage (V)</text>
</svg>
</body></html>
